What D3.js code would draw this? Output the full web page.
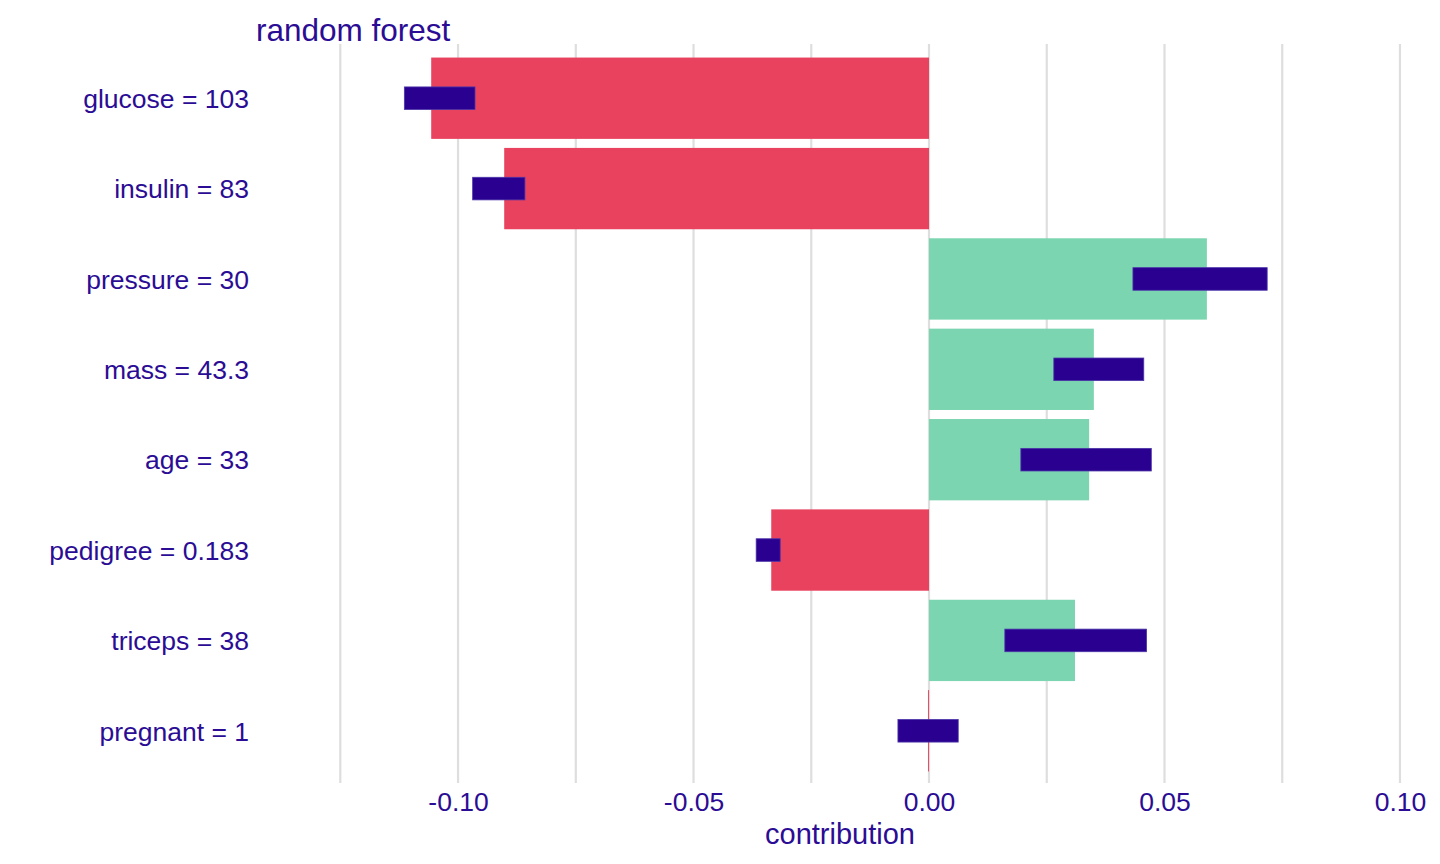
<!DOCTYPE html>
<html>
<head>
<meta charset="utf-8">
<script src="https://cdn.jsdelivr.net/npm/d3@7"></script>
<style>
  body { margin: 0; background: #fff; }
  text { font-family: "Liberation Sans", Arial, Helvetica, sans-serif; }
</style>
</head>
<body>
<div id="chart"></div>
<script>
// variable labels, top to bottom
var labels = ["glucose = 103", "insulin = 83", "pressure = 30", "mass = 43.3",
              "age = 33", "pedigree = 0.183", "triceps = 38", "pregnant = 1"];
// mean contribution (bar)
var contribution = [-0.1057, -0.0902, 0.0590, 0.0350, 0.0340, -0.0335, 0.0310, -0.0002];
// interval ends (dark boxes)
var lower = [-0.1114, -0.0969, 0.0433, 0.0265, 0.0195, -0.0367, 0.0161, -0.0066];
var upper = [-0.0964, -0.0858, 0.0718, 0.0456, 0.0472, -0.0316, 0.0462, 0.0062];
var majorTicks = [-0.10, -0.05, 0.00, 0.05, 0.10];
var minorTicks = [-0.125, -0.075, -0.025, 0.025, 0.075];

var W = 1440, H = 864;
var panel = {left: 256, right: 1424, top: 44, bottom: 785};
var textColor = "#2b0c94";

var svg = d3.select("#chart").append("svg")
    .attr("width", W)
    .attr("height", H);

var x = d3.scaleLinear()
    .domain([-0.1429, 0.1051])
    .range([panel.left, panel.right]);

var y = d3.scaleBand()
    .domain(labels)
    .range([panel.top, panel.bottom])
    .paddingInner(0.1)
    .paddingOuter(0.15);

// grid lines
svg.append("g").selectAll("line")
    .data(minorTicks.concat(majorTicks))
    .enter().append("line")
    .attr("x1", function(d) { return x(d); })
    .attr("x2", function(d) { return x(d); })
    .attr("y1", panel.top)
    .attr("y2", panel.bottom - 2)
    .attr("stroke", "#dedede")
    .attr("stroke-width", 2.2);

// bars
svg.append("g").selectAll("rect")
    .data(labels)
    .enter().append("rect")
    .attr("x", function(d, i) { return x(Math.min(0, contribution[i])); })
    .attr("width", function(d, i) { return Math.abs(x(contribution[i]) - x(0)); })
    .attr("y", function(d) { return y(d); })
    .attr("height", y.bandwidth())
    .attr("fill", function(d, i) { return contribution[i] < 0 ? "#e9425f" : "#7bd5b0"; });

// intervals
var ih = y.step() * 0.25;
svg.append("g").selectAll("rect")
    .data(labels)
    .enter().append("rect")
    .attr("x", function(d, i) { return x(lower[i]); })
    .attr("width", function(d, i) { return x(upper[i]) - x(lower[i]); })
    .attr("y", function(d) { return y(d) + y.bandwidth() / 2 - ih / 2; })
    .attr("height", ih)
    .attr("fill", "#2a0091")
    .attr("stroke", "#4b35a8")
    .attr("stroke-width", 0.8);

// x axis labels
var xAxis = svg.append("g")
    .attr("transform", "translate(0," + panel.bottom + ")")
    .call(d3.axisBottom(x).tickValues(majorTicks).tickSize(0));
xAxis.select(".domain").remove();
xAxis.selectAll("text")
    .attr("fill", textColor)
    .style("font-size", "26.5px")
    .attr("y", 26)
    .attr("dy", 0)
    .text(function(d) { return d3.format(".2f")(d).replace("\u2212", "-"); });

// y axis labels
var yAxis = svg.append("g")
    .attr("transform", "translate(" + panel.left + ",0)")
    .call(d3.axisLeft(y).tickSize(0).tickPadding(7));
yAxis.select(".domain").remove();
yAxis.selectAll("text")
    .attr("fill", textColor)
    .attr("dy", "0.37em")
    .style("font-size", "26.5px");

// title
svg.append("text")
    .attr("x", panel.left)
    .attr("y", 41)
    .attr("fill", textColor)
    .style("font-size", "31.5px")
    .text("random forest");

// x title
svg.append("text")
    .attr("x", (panel.left + panel.right) / 2)
    .attr("y", 844)
    .attr("text-anchor", "middle")
    .attr("fill", textColor)
    .style("font-size", "29px")
    .text("contribution");
</script>
</body>
</html>
